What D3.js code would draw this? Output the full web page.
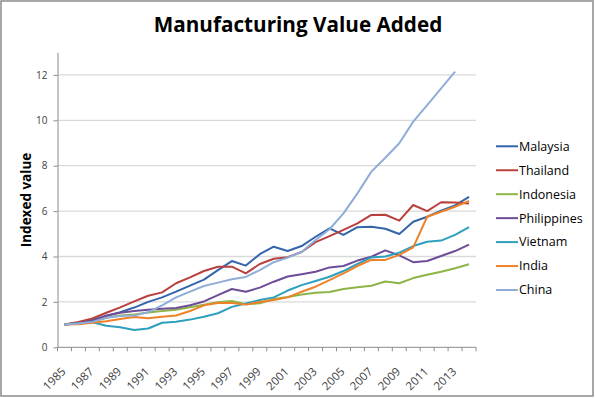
<!DOCTYPE html>
<html>
<head>
<meta charset="utf-8">
<script src="https://cdn.jsdelivr.net/npm/d3@7"></script>
<style>
  body { margin: 0; background: #fff; }
  svg { display: block; font-family: "Open Sans", "Noto Sans", sans-serif; }
</style>
</head>
<body>
<svg id="chart" width="595" height="398"></svg>
<script>
const years = d3.range(1985, 2015).map(String);
const yTicks = [0, 2, 4, 6, 8, 10, 12];

const malaysia = [1.0, 1.08, 1.2, 1.38, 1.55, 1.75, 2.0, 2.2, 2.45, 2.72, 2.98, 3.4, 3.8, 3.6, 4.1, 4.43, 4.24, 4.46, 4.87, 5.24, 4.95, 5.29, 5.31, 5.22, 4.99, 5.53, 5.75, 6.02, 6.25, 6.63];
const thailand = [1.0, 1.12, 1.27, 1.52, 1.76, 2.02, 2.27, 2.42, 2.82, 3.08, 3.36, 3.55, 3.55, 3.26, 3.67, 3.9, 3.97, 4.2, 4.63, 4.9, 5.17, 5.46, 5.83, 5.84, 5.58, 6.27, 6.0, 6.39, 6.38, 6.34];
const indonesia = [1.0, 1.05, 1.12, 1.3, 1.4, 1.45, 1.53, 1.6, 1.65, 1.76, 1.87, 1.98, 2.04, 1.9, 1.94, 2.13, 2.22, 2.33, 2.4, 2.44, 2.57, 2.65, 2.71, 2.9, 2.82, 3.05, 3.2, 3.33, 3.48, 3.66];
const philippines = [1.0, 1.07, 1.15, 1.4, 1.52, 1.6, 1.65, 1.7, 1.73, 1.85, 2.02, 2.3, 2.57, 2.45, 2.63, 2.89, 3.12, 3.22, 3.33, 3.52, 3.58, 3.82, 3.99, 4.27, 4.05, 3.75, 3.8, 4.02, 4.24, 4.52];
const vietnam = [1.0, 1.05, 1.1, 0.95, 0.88, 0.76, 0.83, 1.08, 1.13, 1.22, 1.35, 1.5, 1.78, 1.93, 2.08, 2.2, 2.5, 2.74, 2.92, 3.11, 3.36, 3.67, 3.96, 4.0, 4.17, 4.46, 4.65, 4.7, 4.95, 5.29];
const india = [1.0, 1.02, 1.08, 1.15, 1.25, 1.33, 1.28, 1.35, 1.4, 1.6, 1.85, 1.95, 1.95, 1.88, 2.0, 2.08, 2.2, 2.45, 2.67, 2.96, 3.26, 3.58, 3.85, 3.85, 4.07, 4.4, 5.75, 5.97, 6.19, 6.45];
const china = [1.0, 1.05, 1.12, 1.3, 1.38, 1.4, 1.55, 1.85, 2.2, 2.45, 2.7, 2.85, 3.0, 3.1, 3.4, 3.75, 3.95, 4.2, 4.73, 5.2, 5.9, 6.78, 7.74, 8.35, 8.99, 9.94, 10.67, 11.41, 12.14, null];

const seriesNames = ["Malaysia", "Thailand", "Indonesia", "Philippines", "Vietnam", "India", "China"];
const seriesValues = [malaysia, thailand, indonesia, philippines, vietnam, india, china];
const colors = ["#3465ab", "#b8403d", "#8db446", "#6e4c98", "#2e9fbd", "#ef8228", "#8fadd9"];

const svg = d3.select("#chart");

// outer frame
svg.append("rect")
  .attr("x", 1).attr("y", 1)
  .attr("width", 592).attr("height", 395)
  .attr("fill", "#fff")
  .attr("stroke", "#8c8c8c")
  .attr("stroke-width", 1.5);

const x = d3.scaleBand().domain(years).range([57.5, 476]).padding(0);
const y = d3.scaleLinear().domain([0, 13]).range([347.3, 52.2]);
const cx = (d) => x(d) + x.bandwidth() / 2;

// gridlines
svg.append("g")
  .selectAll("line")
  .data(yTicks.filter((d) => d > 0))
  .join("line")
  .attr("x1", 57.5).attr("x2", 476)
  .attr("y1", (d) => y(d)).attr("y2", (d) => y(d))
  .attr("stroke", "#d9d9d9")
  .attr("stroke-width", 1.3);

// y axis
const yAxis = svg.append("g")
  .attr("transform", "translate(57.5,0)")
  .call(d3.axisLeft(y).tickValues(yTicks).tickSize(4).tickSizeOuter(0));
yAxis.select(".domain").attr("stroke", "#8c8c8c");
yAxis.selectAll(".tick line").attr("stroke", "#8c8c8c");
yAxis.selectAll("text")
  .attr("x", -10)
  .attr("fill", "#404040")
  .attr("font-size", 10)
  .attr("font-family", "Open Sans, sans-serif");

// x axis
const xg = svg.append("g");
xg.append("line")
  .attr("x1", 57.5).attr("x2", 476)
  .attr("y1", y(0)).attr("y2", y(0))
  .attr("stroke", "#8c8c8c");
xg.selectAll(".xtick")
  .data(years.concat(["end"]))
  .join("line")
  .attr("class", "xtick")
  .attr("x1", (d) => (d === "end" ? x.range()[1] : x(d)))
  .attr("x2", (d) => (d === "end" ? x.range()[1] : x(d)))
  .attr("y1", y(0)).attr("y2", y(0) + 4)
  .attr("stroke", "#8c8c8c");
xg.selectAll(".xlabel")
  .data(years.filter((d, i) => i % 2 === 0))
  .join("text")
  .attr("class", "xlabel")
  .attr("transform", (d) => `translate(${cx(d) + 2},${y(0) + 25}) rotate(-45)`)
  .attr("text-anchor", "end")
  .attr("fill", "#404040")
  .attr("font-size", 11.5)
  .text((d) => d);

// lines
const line = d3.line()
  .defined((d) => d.v != null)
  .x((d) => cx(d.year))
  .y((d) => y(d.v));

svg.append("g")
  .selectAll("path")
  .data(seriesValues)
  .join("path")
  .attr("fill", "none")
  .attr("stroke", (d, i) => colors[i])
  .attr("stroke-width", 2)
  .attr("stroke-linejoin", "round")
  .attr("d", (vals) => line(vals.map((v, i) => ({ year: years[i], v: v }))));

// title
svg.append("text")
  .attr("x", 298).attr("y", 32)
  .attr("text-anchor", "middle")
  .attr("font-size", 20.7)
  .attr("font-weight", "bold")
  .attr("fill", "#000")
  .text("Manufacturing Value Added");

// y title
svg.append("text")
  .attr("transform", "translate(31,200) rotate(-90)")
  .attr("text-anchor", "middle")
  .attr("font-size", 13.5)
  .attr("font-weight", "bold")
  .attr("fill", "#000")
  .text("Indexed value");

// legend
const legend = svg.append("g")
  .selectAll("g")
  .data(seriesNames)
  .join("g")
  .attr("transform", (d, i) => `translate(496,${146.3 + i * 23.95})`);
legend.append("line")
  .attr("x1", 0).attr("x2", 22)
  .attr("stroke", (d, i) => colors[i])
  .attr("stroke-width", 2);
legend.append("text")
  .attr("x", 23)
  .attr("dy", "0.35em")
  .attr("font-size", 12.5)
  .attr("fill", "#000")
  .text((d) => d);
</script>
</body>
</html>
